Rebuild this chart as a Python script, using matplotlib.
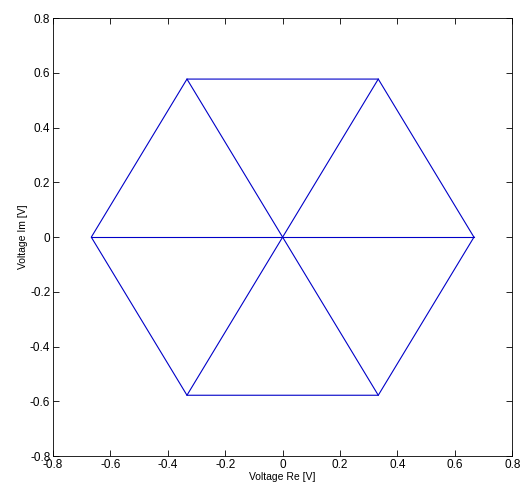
import numpy as np
import matplotlib
matplotlib.use("Agg")
import matplotlib.pyplot as plt

# vetores de tensao (vertices do hexagono)
v_re = [0.6667, 0.3333, -0.3333, -0.6667, -0.3333, 0.3333]
v_im = [0.0, 0.5774, 0.5774, 0.0, -0.5774, -0.5774]
tick_vals = [-0.8, -0.6, -0.4, -0.2, 0.0, 0.2, 0.4, 0.6, 0.8]
tick_txt = ["-0.8", "-0.6", "-0.4", "-0.2", "0", "0.2", "0.4", "0.6", "0.8"]

plt.rcParams['font.family'] = ['Liberation Sans', 'DejaVu Sans']

fig = plt.figure(figsize=(5.2, 4.9), dpi=100)
ax = fig.add_axes([0.102, 0.069, 0.883, 0.894])

# hexagono
hx = v_re + [v_re[0]]
hy = v_im + [v_im[0]]
ax.plot(hx, hy, color="#0000c8", linewidth=0.8)

# linhas pela origem
for i in range(3):
    ax.plot([v_re[i], v_re[i + 3]], [v_im[i], v_im[i + 3]], color="#0000c8", linewidth=0.8)

ax.set_xlim(-0.8, 0.8)
ax.set_ylim(-0.8, 0.8)
ax.set_xticks(tick_vals)
ax.set_yticks(tick_vals)
ax.set_xticklabels(tick_txt)
ax.set_yticklabels(tick_txt)
ax.tick_params(direction="in", top=True, right=True, labelsize=8.5, length=4, width=0.6, pad=2)
for s in ax.spines.values():
    s.set_linewidth(0.6)
ax.set_xlabel("Voltage Re [V]", fontsize=7.5, labelpad=1)
ax.set_ylabel("Voltage Im [V]", fontsize=7.5, labelpad=1)

fig.savefig("out.png", dpi=100)
